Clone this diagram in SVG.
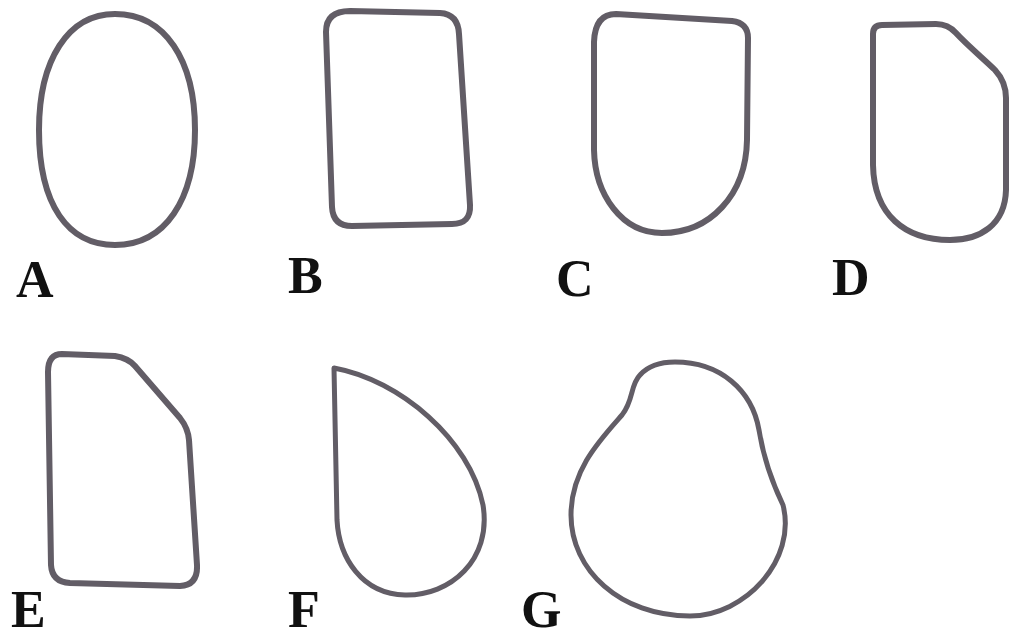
<svg xmlns="http://www.w3.org/2000/svg" width="1009" height="637" viewBox="0 0 1009 637">
<style>
.s{fill:none;stroke:#625d66;stroke-width:6;stroke-linejoin:round;stroke-linecap:round}
.t{stroke-width:5}
.l{font-family:"Liberation Serif",serif;font-weight:bold;font-size:52px;fill:#111}
</style>
<rect width="1009" height="637" fill="#fff"/>
<g id="A"><path class="s" d="M 115 14 C 165 14 195 60 195 130 C 195 200 165 245 115 245 C 68 245 39 205 39 130 C 39 60 68 14 115 14 Z"/><text class="l" x="16" y="297">A</text></g>
<g id="B"><path class="s" d="M 350 11 L 440 13 Q 458 14 459 34 L 470 205 Q 471 224 452 224 L 352 226 Q 333 226 332 207 L 326 32 Q 326 11 350 11 Z"/><text class="l" x="288" y="293">B</text></g>
<g id="C"><path class="s" d="M 616 14 L 732 21 Q 748 23 748 38 L 747 140 C 746 195 710 233 662 233 C 622 233 595 195 594 150 L 594 42 Q 595 14 616 14 Z"/><text class="l" x="556" y="296">C</text></g>
<g id="D"><path class="s" d="M 882 25 L 936 24 Q 948 24 956 33 C 968 46 985 60 995 70 Q 1006 82 1006 98 L 1006 190 C 1005 225 980 240 950 240 C 905 240 874 215 873 165 L 873 34 Q 873 25 882 25 Z"/><text class="l" x="832" y="295">D</text></g>
<g id="E"><path class="s" d="M 62 354 L 115 356 Q 128 358 135 366 L 180 418 Q 188 428 189 440 L 197 565 Q 198 585 180 586 L 70 583 Q 52 582 51 565 L 48 372 Q 48 354 62 354 Z"/><text class="l" x="11" y="627">E</text></g>
<g id="F"><path class="s t" d="M 334 368 C 400 380 470 440 483 505 C 492 560 450 596 405 595 C 362 594 339 558 337 520 L 334 368 Z"/><text class="l" x="288" y="627">F</text></g>
<g id="G"><path class="s t" d="M 675 362 C 720 362 752 390 759 430 C 763 455 770 478 783 505 C 797 560 745 616 690 616 C 620 616 571 570 571 515 C 571 470 600 440 622 415 C 634 400 630 385 640 375 C 648 366 660 362 675 362 Z"/><text class="l" x="521" y="627">G</text></g>
</svg>
